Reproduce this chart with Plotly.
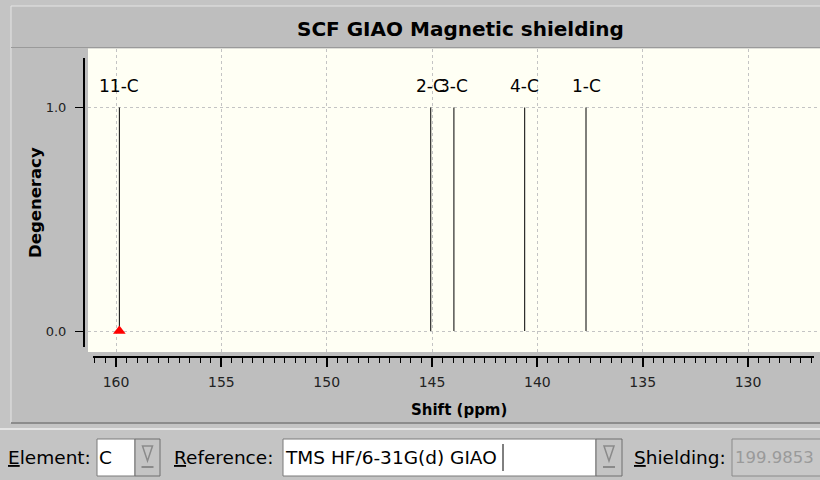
import plotly.graph_objects as go

W, H = 820, 480

# ---- data ----
peak_labels = ["11-C", "2-C", "3-C", "4-C", "1-C"]
peak_shifts = [159.84, 145.06, 143.96, 140.60, 137.69]
peak_degeneracy = [1, 1, 1, 1, 1]
selected_peak = 0
x_tickvals = [160, 155, 150, 145, 140, 135, 130]
y_tickvals = [0, 1]
y_ticktext = ["0.0", "1.0"]
title_text = "SCF GIAO Magnetic shielding"
x_title = "Shift (ppm)"
y_title = "Degeneracy"
element_value = "C"
reference_value = "TMS HF/6-31G(d) GIAO"
shielding_value = "199.9853"

FONT = "DejaVu Sans"


def X(p):
    return p / W


def Y(p):
    return 1 - p / H


# stick traces built from data
xs, ys = [], []
for s, d in zip(peak_shifts, peak_degeneracy):
    xs += [s, s, None]
    ys += [0, d, None]

fig = go.Figure()
fig.add_trace(go.Scatter(x=xs, y=ys, mode="lines",
                         line=dict(color="black", width=1),
                         hoverinfo="skip", showlegend=False,
                         xaxis="x", yaxis="y"))
fig.add_trace(go.Scatter(x=[peak_shifts[selected_peak]], y=[0], mode="markers",
                         marker=dict(symbol="triangle-up", size=11, color="red",
                                     line=dict(width=0)),
                         hoverinfo="skip", showlegend=False,
                         xaxis="x", yaxis="y"))
# invisible trace to host the tick axes
fig.add_trace(go.Scatter(x=[peak_shifts[0]], y=[0], mode="markers",
                         marker=dict(opacity=0), hoverinfo="skip",
                         showlegend=False, xaxis="x2", yaxis="y2"))

# ---- scale geometry ----
px_per_unit_x = (748 - 116) / 30.0
def xval(pxl):
    return 160 - (pxl - 116) / px_per_unit_x

px_per_unit_y = 331 - 107.5
def yval(pyl):
    return (331 - pyl) / px_per_unit_y

grid = dict(showgrid=True, gridcolor="#c4c4c4", griddash="3px,3px", gridwidth=1)

shapes = []
# outer panel and chrome
shapes.append(dict(type="rect", xref="paper", yref="paper", x0=X(11), x1=X(822),
                   y0=Y(6), y1=Y(423), fillcolor="#bebebe",
                   line=dict(color="#e4e4e4", width=1), layer="below"))
shapes.append(dict(type="line", xref="paper", yref="paper", x0=X(11), x1=X(822),
                   y0=Y(423), y1=Y(423), line=dict(color="#8c8c8c", width=2), layer="below"))
shapes.append(dict(type="line", xref="paper", yref="paper", x0=X(0), x1=X(822),
                   y0=Y(429), y1=Y(429), line=dict(color="#e4e4e4", width=2), layer="below"))
shapes.append(dict(type="line", xref="paper", yref="paper", x0=X(11), x1=X(822),
                   y0=Y(47.5), y1=Y(47.5), line=dict(color="#9a9a9a", width=1), layer="below"))
# cream plot area
shapes.append(dict(type="rect", xref="paper", yref="paper", x0=X(88), x1=X(822),
                   y0=Y(352), y1=Y(48.5), fillcolor="#fffff4",
                   line=dict(width=0), layer="below"))

# bottom widgets
def box(x0, x1, fill, border="#7a7a7a"):
    shapes.append(dict(type="rect", xref="paper", yref="paper", x0=X(x0), x1=X(x1),
                       y0=Y(476), y1=Y(439), fillcolor=fill,
                       line=dict(color=border, width=1), layer="below"))

def button(x0, x1):
    box(x0, x1, "#c4c4c4", "#6e6e6e")
    cx = (x0 + x1) / 2
    shapes.append(dict(type="path", xref="paper", yref="paper",
                       path=f"M {X(cx-5)} {Y(446)} L {X(cx+5)} {Y(446)} L {X(cx)} {Y(461)} Z",
                       fillcolor="rgba(0,0,0,0)", line=dict(color="#8a8a8a", width=1.5),
                       layer="below"))
    shapes.append(dict(type="line", xref="paper", yref="paper", x0=X(cx-6), x1=X(cx+6),
                       y0=Y(467), y1=Y(467), line=dict(color="#8a8a8a", width=2),
                       layer="below"))

box(97, 135, "white")
button(135, 160)
box(283, 596, "white")
button(596, 622)
box(732, 822, "#c8c8c8", "#8a8a8a")
# text cursor
shapes.append(dict(type="line", xref="paper", yref="paper", x0=X(503), x1=X(503),
                   y0=Y(444), y1=Y(471), line=dict(color="black", width=1), layer="above"))

annotations = []
annotations.append(dict(text=f"<b>{title_text}</b>", xref="paper", yref="paper",
                        x=X(460), y=Y(29), showarrow=False, xanchor="center", yanchor="middle",
                        font=dict(family=FONT, size=20, color="black")))
annotations.append(dict(text=f"<b>{x_title}</b>", xref="paper", yref="paper",
                        x=X(459), y=Y(410), showarrow=False, xanchor="center", yanchor="middle",
                        font=dict(family=FONT, size=15, color="black")))
annotations.append(dict(text=f"<b>{y_title}</b>", xref="paper", yref="paper",
                        x=X(36), y=Y(203), showarrow=False, textangle=-90,
                        xanchor="center", yanchor="middle",
                        font=dict(family=FONT, size=16.5, color="black")))
for lab, s, d in zip(peak_labels, peak_shifts, peak_degeneracy):
    annotations.append(dict(text=lab, x=s, y=d, xref="x", yref="y", showarrow=False,
                            xanchor="center", yanchor="bottom", yshift=9,
                            font=dict(family=FONT, size=17, color="black")))

def label(text, x, color="black", size=18.5):
    annotations.append(dict(text=text, xref="paper", yref="paper", x=X(x), y=Y(457.5),
                            showarrow=False, xanchor="left", yanchor="middle",
                            font=dict(family=FONT, size=size, color=color)))

label("<u>E</u>lement:", 6)
label(element_value, 97)
label("<u>R</u>eference:", 172)
label(reference_value, 283)
label("<u>S</u>hielding:", 632)
label(shielding_value, 733, "#9a9a9a", 16.5)

fig.update_layout(
    width=W, height=H,
    margin=dict(l=0, r=0, t=0, b=0),
    paper_bgcolor="#c4c4c4",
    plot_bgcolor="rgba(0,0,0,0)",
    showlegend=False,
    shapes=shapes,
    annotations=annotations,
    xaxis=dict(domain=[X(88), 1.0], range=[xval(88), xval(820)], anchor="y",
               tickvals=x_tickvals, showticklabels=False, ticks="",
               showline=False, zeroline=False, fixedrange=True, **grid),
    yaxis=dict(domain=[Y(352), Y(49)], range=[yval(352), yval(49)], anchor="x",
               tickvals=y_tickvals, showticklabels=False, ticks="",
               showline=False, zeroline=False, fixedrange=True, **grid),
    xaxis2=dict(domain=[X(93), X(814)], range=[xval(93), xval(814)],
                anchor="free", position=Y(357),
                showline=True, linecolor="black", linewidth=2,
                tickvals=x_tickvals, ticks="outside", ticklen=9, tickwidth=2,
                tickcolor="black", ticklabelstandoff=3,
                tickfont=dict(family=FONT, size=14, color="#222222"),
                minor=dict(dtick=0.5, tick0=0, ticks="outside", ticklen=5,
                           tickwidth=1, tickcolor="black", showgrid=False),
                showgrid=False, zeroline=False, fixedrange=True),
    yaxis2=dict(domain=[Y(347), Y(58)], range=[yval(347), yval(58)],
                anchor="free", position=X(84),
                showline=True, linecolor="black", linewidth=2,
                tickvals=y_tickvals, ticktext=y_ticktext,
                ticks="outside", ticklen=8, tickwidth=1, tickcolor="black",
                ticklabelstandoff=6,
                tickfont=dict(family=FONT, size=13, color="#222222"),
                showgrid=False, zeroline=False, fixedrange=True),
)

fig.write_html("out.html", config={"displayModeBar": False},
               post_script="document.body.style.margin='0';")
